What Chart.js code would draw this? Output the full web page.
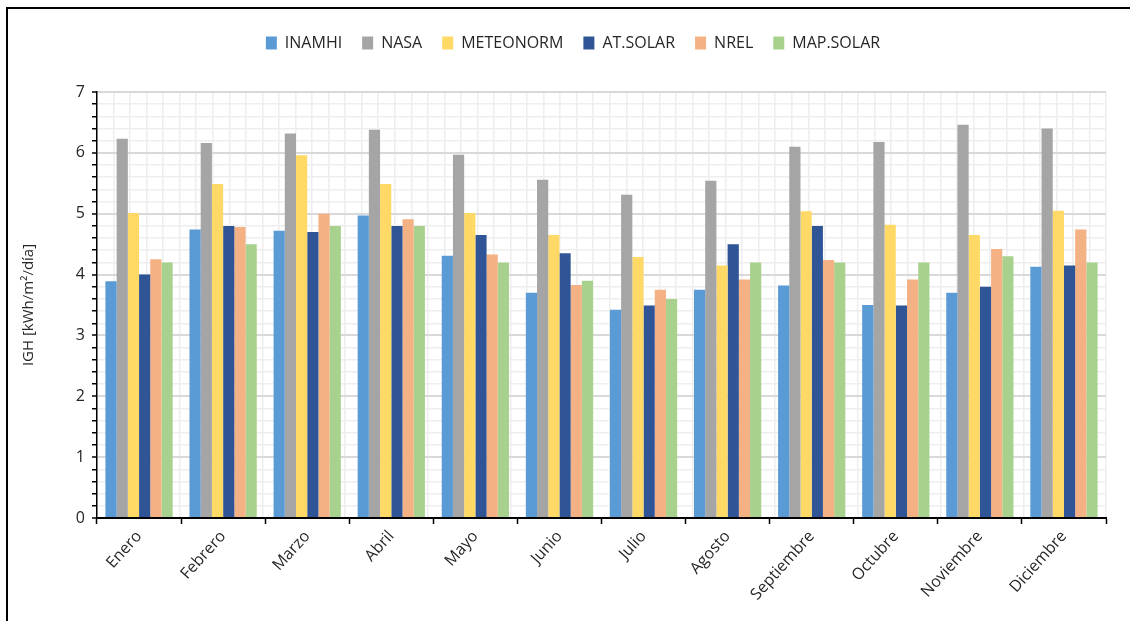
<!DOCTYPE html>
<html lang="es">

<head>
    <meta charset="UTF-8">
    <title>IGH mensual</title>
    <script src="https://cdn.jsdelivr.net/npm/chart.js"></script>
    <style>
        html, body { margin: 0; padding: 0; background: #fff; overflow: hidden; }
        .marco {
            position: absolute; left: 6px; top: 7px; width: 1140px; height: 640px;
            border-left: 2px solid #000; border-top: 2px solid #000;
        }
        .grafico { position: absolute; left: 0; top: 0; width: 1130px; height: 621px; }
    </style>
</head>

<body>
    <div class="marco"></div>
    <div class="grafico">
        <canvas id="myChart" width="1130" height="621"></canvas>
    </div>

<script>
    // meses del eje X
    const meses = ['Enero', 'Febrero', 'Marzo', 'Abril', 'Mayo', 'Junio', 'Julio',
        'Agosto', 'Septiembre', 'Octubre', 'Noviembre', 'Diciembre'];

    // IGH [kWh/m2/dia] por fuente
    const inamhi = [3.89, 4.74, 4.72, 4.97, 4.31, 3.70, 3.42, 3.75, 3.82, 3.50, 3.70, 4.13];
    const nasa = [6.23, 6.16, 6.32, 6.38, 5.97, 5.56, 5.31, 5.54, 6.10, 6.18, 6.46, 6.40];
    const meteonorm = [5.01, 5.49, 5.96, 5.49, 5.01, 4.65, 4.29, 4.15, 5.04, 4.82, 4.65, 5.05];
    const atSolar = [4.00, 4.80, 4.70, 4.80, 4.65, 4.35, 3.49, 4.50, 4.80, 3.49, 3.80, 4.15];
    const nrel = [4.25, 4.78, 5.00, 4.91, 4.33, 3.83, 3.75, 3.92, 4.24, 3.92, 4.42, 4.74];
    const mapSolar = [4.20, 4.50, 4.80, 4.80, 4.20, 3.90, 3.60, 4.20, 4.20, 4.20, 4.30, 4.20];

    const fuente = "'Open Sans', sans-serif";

    function serie(nombre, datos, color) {
        return {
            label: nombre,
            data: datos,
            backgroundColor: color,
            borderWidth: 0,
            categoryPercentage: 0.8,
            barPercentage: 1.0,
            xAxisID: 'x',
            yAxisID: 'y'
        };
    }

    const dados = {
        labels: meses,
        datasets: [
            serie('INAMHI', inamhi, '#5B9BD5'),
            serie('NASA', nasa, '#A5A5A5'),
            serie('METEONORM', meteonorm, '#FFD966'),
            serie('AT.SOLAR', atSolar, '#2F5597'),
            serie('NREL', nrel, '#F4B183'),
            serie('MAP.SOLAR', mapSolar, '#A9D18E')
        ]
    };

    const config = {
        type: 'bar',
        data: dados,
        options: {
            responsive: false,
            animation: false,
            layout: {
                padding: { left: 40, right: 24, top: 15, bottom: 0 }
            },
            plugins: {
                tooltip: { enabled: false },
                legend: {
                    position: 'top',
                    labels: {
                        color: '#262626',
                        font: { family: fuente, size: 16 },
                        boxWidth: 11,
                        boxHeight: 13,
                        padding: 20
                    }
                }
            },
            scales: {
                // lineas verticales menores (5 por mes)
                xm: {
                    type: 'linear',
                    position: 'top',
                    min: 0,
                    max: 12,
                    ticks: { display: false, stepSize: 0.2, autoSkip: false },
                    grid: { color: '#eeeeee', lineWidth: 1.5, drawTicks: false },
                    border: { display: false },
                    afterFit: function (scale) {
                        scale.height = 31;
                    }
                },
                x: {
                    type: 'category',
                    position: 'bottom',
                    ticks: {
                        color: '#262626',
                        font: { family: fuente, size: 16 },
                        minRotation: 48,
                        maxRotation: 48,
                        autoSkip: false
                    },
                    grid: {
                        offset: true,
                        drawOnChartArea: false,
                        tickColor: '#000',
                        tickLength: 6,
                        tickWidth: 1.5
                    },
                    border: { color: '#000', width: 2 },
                    afterFit: function (scale) {
                        scale.height = 103;
                    }
                },
                y: {
                    min: 0,
                    max: 7,
                    ticks: {
                        stepSize: 0.2,
                        autoSkip: false,
                        color: '#262626',
                        font: { family: fuente, size: 16 },
                        padding: 7,
                        callback: function (v) {
                            const r = Math.round(v);
                            return Math.abs(v - r) < 1e-6 ? r : '';
                        }
                    },
                    grid: {
                        color: function (ctx) {
                            const v = ctx.tick ? ctx.tick.value : 0;
                            return Math.abs(v - Math.round(v)) < 1e-6 ? '#d9d9d9' : '#eeeeee';
                        },
                        lineWidth: function (ctx) {
                            const v = ctx.tick ? ctx.tick.value : 0;
                            return Math.abs(v - Math.round(v)) < 1e-6 ? 2 : 1.5;
                        },
                        tickColor: '#000',
                        tickLength: 5,
                        tickWidth: 1.5
                    },
                    border: { color: '#000', width: 1.5 },
                    title: {
                        display: true,
                        text: 'IGH [kWh/m²/día]',
                        color: '#262626',
                        font: { family: fuente, size: 15 },
                        padding: { top: -20, bottom: 0 }
                    },
                    afterFit: function (scale) {
                        scale.width = 57;
                    }
                }
            }
        }
    };

    const myChart = new Chart(document.getElementById('myChart'), config);
</script>
</body>

</html>
